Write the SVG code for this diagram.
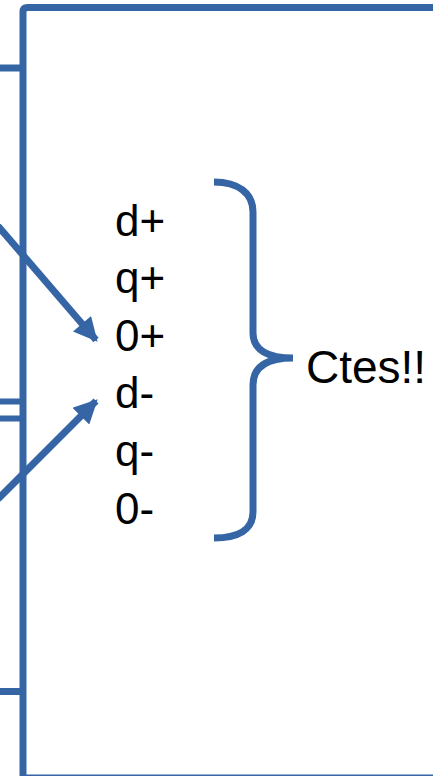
<svg xmlns="http://www.w3.org/2000/svg" width="433" height="776" viewBox="0 0 433 776">
  <defs>
    <style>
      .ln { stroke: #3565a5; stroke-width: 7; fill: none; }
      .thin { stroke: #3565a5; stroke-width: 1.5; fill: none; }
      .lbl { font-family: "Liberation Sans", Arial, sans-serif; font-size: 44px; fill: #000; }
      .big { font-family: "Liberation Sans", Arial, sans-serif; font-size: 46px; fill: #000; }
    </style>
    <marker id="head" viewBox="0 0 10 10" refX="9" refY="5" markerWidth="3.6" markerHeight="3.4" orient="auto" markerUnits="strokeWidth">
      <path d="M0,0 L10,5 L0,10 Z" fill="#3565a5"/>
    </marker>
  </defs>
  <rect width="433" height="776" fill="#fff"/>

  <!-- block frame -->
  <g id="block">
    <path class="ln" d="M23,776 L23,12 Q23,7.5 27.5,7.5 L433,7.5"/>
    <line class="thin" x1="26" y1="775.2" x2="433" y2="775.2"/>
  </g>

  <!-- input stubs on the left edge -->
  <g id="stubs">
    <line class="ln" x1="0" y1="68" x2="20" y2="68"/>
    <line class="ln" x1="0" y1="401.5" x2="20" y2="401.5" style="stroke-width:6"/>
    <line class="ln" x1="0" y1="418.5" x2="20" y2="418.5" style="stroke-width:6"/>
    <line class="ln" x1="0" y1="691.5" x2="20" y2="691.5"/>
  </g>

  <!-- connectors -->
  <g id="connectors">
    <line class="ln" x1="-2" y1="226" x2="96" y2="340" marker-end="url(#head)"/>
    <line class="ln" x1="-2" y1="499" x2="96" y2="401" marker-end="url(#head)"/>
  </g>

  <!-- sequence labels -->
  <g id="labels">
    <text class="lbl" x="115" y="236">d+</text>
    <text class="lbl" x="115" y="293">q+</text>
    <text class="lbl" x="115" y="351">0+</text>
    <text class="lbl" x="115" y="408">d-</text>
    <text class="lbl" x="115" y="466">q-</text>
    <text class="lbl" x="115" y="524">0-</text>
  </g>

  <!-- brace grouping the labels -->
  <g id="brace">
    <path class="ln" d="M214,182 C238,182 253,193 253,212 L253,333 C253,350 268,358 293,358 C268,358 253,366 253,385 L253,512 C253,530 238,538 214,538"/>
  </g>

  <g id="note">
    <text class="big" x="306" y="383">Ctes!!</text>
  </g>
</svg>
